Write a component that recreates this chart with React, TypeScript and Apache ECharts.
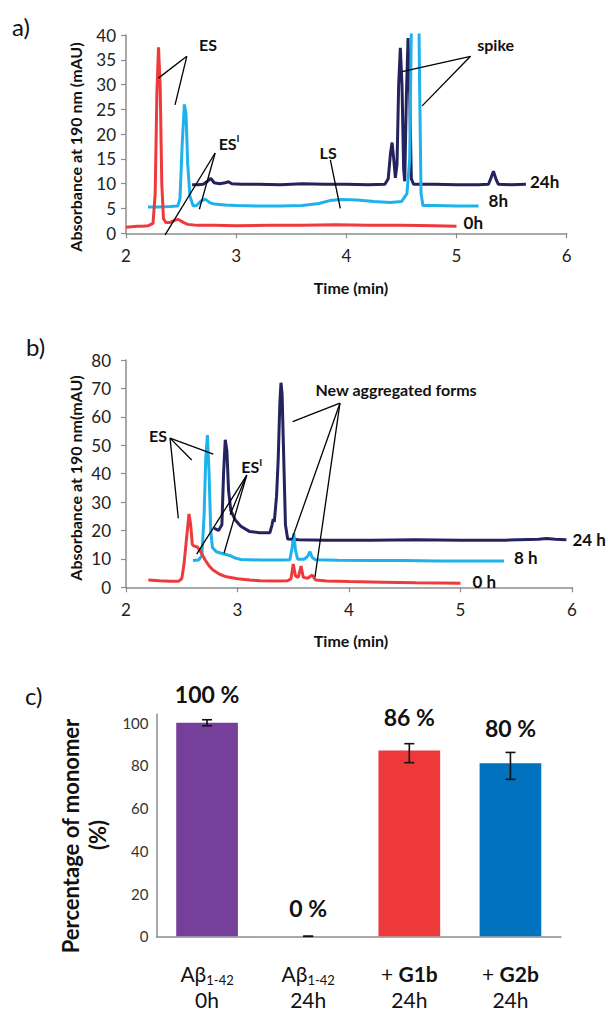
import React, { useEffect, useRef } from "react";
import * as echarts from "echarts";

// ---------- Panel a) chromatograms (time min, absorbance mAU) ----------
const a0h: number[][] = [
  [2.0, 1.2], [2.05, 1.3], [2.1, 1.4], [2.15, 1.4], [2.2, 1.5], [2.245, 2], [2.265, 8], [2.28, 28],
  [2.295, 37.5], [2.31, 30], [2.325, 10], [2.34, 3], [2.36, 2.2], [2.4, 2.2], [2.44, 2.6], [2.475, 2.8],
  [2.52, 2.2], [2.56, 1.8], [2.65, 1.6], [2.8, 1.6], [3.0, 1.5], [3.3, 1.6], [3.6, 1.6], [3.9, 1.7],
  [4.2, 1.6], [4.5, 1.6], [4.8, 1.5], [5.0, 1.4],
];
const a8h: number[][] = [
  [2.2, 5.3], [2.3, 5.3], [2.4, 5.4], [2.47, 5.5], [2.49, 7], [2.51, 18], [2.53, 26], [2.545, 24],
  [2.56, 14], [2.58, 7.5], [2.61, 5.5], [2.64, 5.6], [2.68, 6.5], [2.72, 6.9], [2.76, 6.2], [2.8, 5.9],
  [2.9, 5.7], [3.0, 5.6], [3.2, 5.5], [3.4, 5.5], [3.6, 5.6], [3.75, 6], [3.85, 6.6], [3.95, 6.8],
  [4.1, 6.7], [4.25, 6.4], [4.4, 6.2], [4.5, 6.4], [4.55, 8], [4.575, 15], [4.592, 45], [4.605, 60],
  [4.65, 60], [4.665, 30], [4.678, 8], [4.695, 5.6], [4.8, 5.6], [5.0, 5.5], [5.2, 5.5],
];
const a24h: number[][] = [
  [2.6, 9.8], [2.65, 9.8], [2.7, 9.9], [2.74, 10.5], [2.77, 11.1], [2.8, 10.2], [2.85, 10.0], [2.9, 10.2],
  [2.93, 10.4], [2.96, 10.0], [3.05, 9.9], [3.2, 9.9], [3.4, 9.8], [3.6, 10.0], [3.8, 9.9], [4.0, 9.9],
  [4.2, 9.8], [4.35, 9.9], [4.38, 11], [4.4, 16], [4.415, 18.3], [4.43, 15], [4.445, 11.2], [4.46, 14],
  [4.475, 30], [4.49, 37.4], [4.505, 30], [4.52, 13], [4.53, 10.5], [4.545, 28], [4.56, 39.4], [4.575, 28],
  [4.59, 11], [4.61, 9.9], [4.8, 9.9], [5.0, 9.8], [5.2, 9.8], [5.29, 9.9], [5.31, 11], [5.335, 12.5],
  [5.36, 10.8], [5.38, 9.9], [5.5, 9.8], [5.63, 9.9],
];

// ---------- Panel b) chromatograms ----------
const b0h: number[][] = [
  [2.2, 2.6], [2.3, 2.3], [2.4, 2.1], [2.47, 2.1], [2.5, 3], [2.52, 8], [2.545, 18], [2.565, 25.8],
  [2.58, 22], [2.595, 15], [2.61, 14.5], [2.64, 14.2], [2.67, 12.5], [2.71, 9.6], [2.75, 7.3], [2.78, 6.1],
  [2.84, 4.6], [2.9, 3.7], [3.0, 3.0], [3.11, 2.6], [3.2, 2.3], [3.35, 2.2], [3.45, 2.3], [3.48, 3],
  [3.5, 8.2], [3.52, 4], [3.545, 3.5], [3.57, 7.5], [3.59, 3.5], [3.63, 3.2], [3.67, 4.3], [3.7, 2.6],
  [3.8, 2.2], [4.0, 2.0], [4.3, 1.8], [4.6, 1.6], [5.0, 1.4],
];
const b8h: number[][] = [
  [2.6, 9.4], [2.65, 9.6], [2.68, 11], [2.7, 25], [2.715, 45], [2.73, 53.6], [2.745, 40], [2.76, 20],
  [2.775, 14], [2.81, 12.5], [2.87, 11.8], [2.93, 11.2], [2.98, 10.3], [3.03, 9.8], [3.2, 9.6], [3.4, 9.6],
  [3.47, 9.7], [3.49, 14], [3.505, 19], [3.52, 13], [3.54, 9.9], [3.6, 9.9], [3.63, 11], [3.65, 12.5],
  [3.67, 10.5], [3.7, 9.7], [3.9, 9.5], [4.2, 9.4], [4.5, 9.4], [4.8, 9.3], [5.1, 9.3], [5.39, 9.3],
];
const b24h: number[][] = [
  [2.79, 20.8], [2.83, 20], [2.86, 22], [2.875, 40], [2.89, 51.9], [2.905, 48], [2.92, 34], [2.94, 27],
  [2.98, 23.7], [3.03, 21.5], [3.11, 19.6], [3.2, 19.2], [3.29, 19.2], [3.31, 22], [3.32, 24], [3.33, 23],
  [3.35, 32], [3.365, 45], [3.38, 65], [3.39, 72], [3.4, 68], [3.415, 45], [3.43, 22], [3.45, 17],
  [3.55, 16.7], [3.8, 16.6], [4.2, 16.6], [4.6, 16.7], [5.0, 16.6], [5.4, 16.6], [5.7, 16.9], [5.77, 17.2],
  [5.85, 16.9], [5.95, 16.7],
];

const seriesNamesA = ["0h", "8h", "24h"];
const seriesNamesB = ["0 h", "8 h", "24 h"];

// ---------- Panel c) bars ----------
const barMain = ["Aβ", "Aβ", "+ ", "+ "];
const barSub = ["1-42", "1-42", "", ""];
const barBold = ["", "", "G1b", "G2b"];
const barTime = ["0h", "24h", "24h", "24h"];
const barCategories = barMain.map((m, i) => `${m}${barSub[i]}${barBold[i]} ${barTime[i]}`);
const barValues = [100, 0, 87, 81];
const barPctLabels = ["100 %", "0 %", "86 %", "80 %"];
const errLow = [98.6, 0, 81.3, 73.5];
const errHigh = [101.4, 0, 90.2, 86.1];

// ---------- annotations (data coordinates) ----------
type Annot = { text: string; sup?: string; at: number[]; vertex: number[]; ends: number[][] };
const annotA: Annot[] = [
  { text: "ES", at: [2.745, 38.0], vertex: [2.552, 35.7], ends: [[2.294, 31.3], [2.445, 25.9]] },
  { text: "ES", sup: "I", at: [2.936, 18.2], vertex: [2.809, 16.2], ends: [[2.666, 4.85], [2.355, -0.3]] },
  { text: "LS", at: [3.835, 16.2], vertex: [3.855, 14.8], ends: [[3.945, 5.05]] },
  { text: "spike", at: [5.355, 38.0], vertex: [5.127, 35.7], ends: [[4.506, 32.6], [4.688, 25.7]] },
];
const annotB: Annot[] = [
  { text: "ES", at: [2.287, 53.6], vertex: [2.395, 52.5], ends: [[2.783, 46.9], [2.589, 44.8], [2.469, 24.3]] },
  { text: "ES", sup: "I", at: [3.127, 42.5], vertex: [3.083, 39.5], ends: [[2.634, 11.7], [2.879, 12.0], [2.933, 25.5]] },
  { text: "New aggregated forms", at: [4.422, 69.5], vertex: [3.919, 64.8], ends: [[3.495, 58.3], [3.486, 16.7], [3.695, 3.7]] },
];

const FONT = "Lato, 'Open Sans', sans-serif";
const RED = "#EE3A3C";
const CYAN = "#1DB2EC";
const NAVY = "#25235E";
const BAR_COLORS = ["#76409A", "#76409A", "#EE393B", "#0172BE"];
const AXIS_GRAY = "#8C8C8C";

export default function App() {
  const ref = useRef<HTMLDivElement>(null);
  useEffect(() => {
    if (!ref.current) return;
    const chart = echarts.init(ref.current, null, { renderer: "svg" });

    const valueX = (gridIndex: number, margin: number) => ({
      type: "value", gridIndex, min: 2, max: 6, interval: 1,
      axisLine: { lineStyle: { color: AXIS_GRAY, width: 1.5 } },
      axisTick: { show: true, length: 5, lineStyle: { color: AXIS_GRAY, width: 1.2 } },
      axisLabel: { fontFamily: FONT, fontSize: 17, color: "#222", margin },
      splitLine: { show: false },
    });
    const valueY = (gridIndex: number, max: number, interval: number, margin: number) => ({
      type: "value", gridIndex, min: 0, max, interval,
      axisLine: { show: true, lineStyle: { color: AXIS_GRAY, width: 1.5 } },
      axisTick: { show: true, length: 5, lineStyle: { color: AXIS_GRAY, width: 1.2 } },
      axisLabel: { fontFamily: FONT, fontSize: 17, color: "#222", margin },
      splitLine: { show: false },
    });

    const lineSeries = (data: number[][], color: string, idx: number, name: string, dist: number, dy: number) => ({
      type: "line", name, xAxisIndex: idx, yAxisIndex: idx, data, showSymbol: false, symbol: "none",
      clip: true, lineStyle: { color, width: 3 }, itemStyle: { color },
      endLabel: {
        show: true, formatter: name, distance: dist, offset: [0, dy],
        fontFamily: FONT, fontWeight: "bold", fontSize: 17, color: "#111",
      },
      z: 3,
    });

    const option: any = {
      animation: false,
      backgroundColor: "#fff",
      grid: [
        { left: 126, top: 35, width: 440.7, height: 198.3 },
        { left: 126, top: 360, width: 446, height: 227.3 },
        { left: 156.5, top: 714.2, width: 404.5, height: 222.1 },
      ],
      xAxis: [
        valueX(0, 14),
        valueX(1, 14),
        {
          type: "category", gridIndex: 2, data: barCategories,
          axisLine: { lineStyle: { color: AXIS_GRAY, width: 1.5 } },
          axisTick: { show: false },
          axisLabel: {
            margin: 24, interval: 0, color: "#111", fontFamily: FONT,
            formatter: (_v: string, i: number) => {
              const top = `{t|${barMain[i]}}` + (barSub[i] ? `{s|${barSub[i]}}` : "") + (barBold[i] ? `{b|${barBold[i]}}` : "");
              return `${top}\n{t|${barTime[i]}}`;
            },
            rich: {
              t: { fontFamily: FONT, fontSize: 21, lineHeight: 26, color: "#111" },
              s: { fontFamily: FONT, fontSize: 13, lineHeight: 11, verticalAlign: "bottom", color: "#111" },
              b: { fontFamily: FONT, fontSize: 21, lineHeight: 26, fontWeight: "bold", color: "#111" },
            },
          },
        },
      ],
      yAxis: [
        valueY(0, 40, 5, 10),
        valueY(1, 80, 10, 15),
        {
          type: "value", gridIndex: 2, min: 0, max: 104, interval: 20,
          axisLine: { show: true, lineStyle: { color: AXIS_GRAY, width: 1.5 } },
          axisTick: { show: false },
          splitLine: { show: false },
          axisLabel: {
            fontFamily: FONT, fontSize: 15, color: "#333", margin: 8,
            formatter: (v: number) => (v % 20 === 0 ? String(v) : ""),
          },
        },
      ],
      series: [
        lineSeries(a24h, NAVY, 0, seriesNamesA[2], 4, -3),
        lineSeries(a8h, CYAN, 0, seriesNamesA[1], 10, -6),
        lineSeries(a0h, RED, 0, seriesNamesA[0], 7, -4),
        lineSeries(b24h, NAVY, 1, seriesNamesB[2], 6, 0),
        lineSeries(b8h, CYAN, 1, seriesNamesB[1], 10, -3),
        lineSeries(b0h, RED, 1, seriesNamesB[0], 12, -2),
        {
          type: "bar", xAxisIndex: 2, yAxisIndex: 2, barWidth: "61%",
          data: barValues.map((v, i) => ({
            value: v,
            itemStyle: { color: BAR_COLORS[i] },
            label: { distance: [17, 17, 22, 24][i] },
          })),
          label: {
            show: true, position: "top",
            formatter: (p: any) => barPctLabels[p.dataIndex],
            fontFamily: FONT, fontWeight: "bold", fontSize: 23, color: "#111",
          },
        },
        {
          type: "custom", xAxisIndex: 2, yAxisIndex: 2, z: 10,
          data: barCategories.map((_c, i) => [i, errLow[i], errHigh[i]]),
          encode: { x: 0, y: [1, 2] },
          renderItem: (_params: any, api: any) => {
            const x = api.value(0);
            const lo = api.coord([x, api.value(1)]);
            const hi = api.coord([x, api.value(2)]);
            const w = 5;
            const st = { stroke: "#111", lineWidth: 1.6 };
            return {
              type: "group",
              children: [
                { type: "line", shape: { x1: lo[0], y1: lo[1], x2: hi[0], y2: hi[1] }, style: st },
                { type: "line", shape: { x1: lo[0] - w, y1: lo[1], x2: lo[0] + w, y2: lo[1] }, style: st },
                { type: "line", shape: { x1: hi[0] - w, y1: hi[1], x2: hi[0] + w, y2: hi[1] }, style: st },
              ],
            };
          },
        },
      ],
    };
    chart.setOption(option);

    const graphics: any[] = [];
    const txt = (text: string, x: number, y: number, size: number, weight: string, rot = 0, align = "center") => ({
      type: "text", x, y, rotation: rot, silent: true,
      style: {
        text, fill: "#111", font: `${weight} ${size}px ${FONT}`,
        align, verticalAlign: "middle", textAlign: align, textVerticalAlign: "middle",
      },
    });
    graphics.push(txt("a)", 12, 26, 24, "normal", 0, "left"));
    graphics.push(txt("b)", 26, 346, 24, "normal", 0, "left"));
    graphics.push(txt("c)", 25, 695, 24, "normal", 0, "left"));
    graphics.push(txt("Absorbance at 190 nm (mAU)", 75, 147, 16, "bold", Math.PI / 2));
    graphics.push(txt("Absorbance at 190 nm(mAU)", 75, 478, 16, "bold", Math.PI / 2));
    graphics.push(txt("Time (min)", 351, 287, 16, "bold"));
    graphics.push(txt("Time (min)", 351, 640, 16, "bold"));
    graphics.push(txt("Percentage of monomer", 70, 836, 22, "bold", Math.PI / 2));
    graphics.push(txt("(%)", 97, 835, 22, "bold", Math.PI / 2));

    const addAnnots = (gridIndex: number, list: Annot[]) => {
      list.forEach((a) => {
        const v = chart.convertToPixel({ gridIndex } as any, a.vertex) as unknown as number[];
        a.ends.forEach((e) => {
          const p = chart.convertToPixel({ gridIndex } as any, e) as unknown as number[];
          graphics.push({
            type: "line", silent: true, z: 20,
            shape: { x1: v[0], y1: v[1], x2: p[0], y2: p[1] },
            style: { stroke: "#000", lineWidth: 1.3 },
          });
        });
        const t = chart.convertToPixel({ gridIndex } as any, a.at) as unknown as number[];
        graphics.push({
          type: "text", x: t[0], y: t[1], silent: true, z: 20,
          style: {
            text: a.sup ? `{m|${a.text}}{s|${a.sup}}` : `{m|${a.text}}`,
            align: "center", verticalAlign: "middle", textAlign: "center", textVerticalAlign: "middle",
            rich: {
              m: { fontFamily: FONT, fontWeight: "bold", fontSize: 16, lineHeight: 20, fill: "#111" },
              s: { fontFamily: FONT, fontWeight: "bold", fontSize: 10, lineHeight: 12, verticalAlign: "top", fill: "#111" },
            },
          },
        });
      });
    };
    addAnnots(0, annotA);
    addAnnots(1, annotB);
    chart.setOption({ graphic: graphics });

    return () => chart.dispose();
  }, []);

  return (
    <div
      ref={ref}
      style={{ position: "fixed", left: 0, top: 0, width: 608, height: 1013, background: "#fff" }}
    />
  );
}
